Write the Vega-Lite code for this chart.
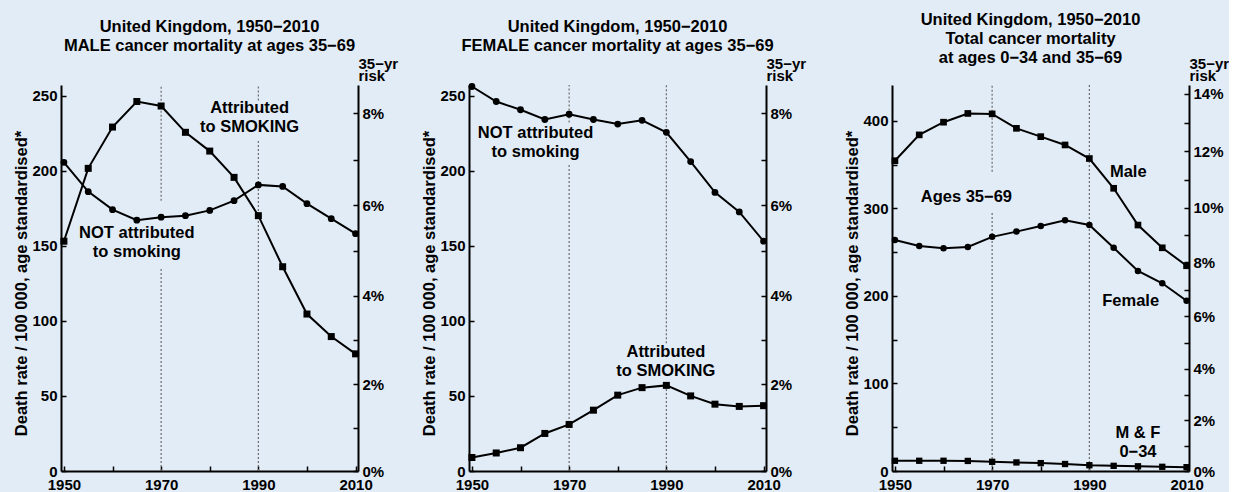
{
  "$schema": "https://vega.github.io/schema/vega-lite/v6.json",
  "background": "#e2ecf6",
  "padding": {"left": 13, "top": 12, "right": 0, "bottom": 0},
  "autosize": {"type": "pad"},
  "config": {
    "view": {"stroke": null},
    "font": "Liberation Sans",
    "axis": {
      "grid": false,
      "domainColor": "black",
      "domainWidth": 2,
      "tickColor": "black",
      "tickWidth": 1.5,
      "tickSize": -5,
      "labelPadding": 9,
      "labelFont": "Liberation Sans",
      "labelFontSize": 15,
      "labelFontWeight": "bold",
      "labelColor": "black",
      "labelOverlap": false,
      "labelFlush": false,
      "titleFont": "Liberation Sans",
      "titleFontSize": 16.5,
      "titleFontWeight": "bold",
      "titleColor": "black"
    },
    "title": {"font": "Liberation Sans", "fontSize": 16.5, "fontWeight": "bold", "color": "black", "lineHeight": 19, "anchor": "middle", "frame": "group"},
    "text": {"font": "Liberation Sans"}
  },
  "datasets": {
    "male": [
      {"series": "smoking", "year": 1950, "value": 153},
      {"series": "smoking", "year": 1955, "value": 201.5},
      {"series": "smoking", "year": 1960, "value": 229},
      {"series": "smoking", "year": 1965, "value": 246},
      {"series": "smoking", "year": 1970, "value": 243},
      {"series": "smoking", "year": 1975, "value": 225.5},
      {"series": "smoking", "year": 1980, "value": 213},
      {"series": "smoking", "year": 1985, "value": 195.5},
      {"series": "smoking", "year": 1990, "value": 170},
      {"series": "smoking", "year": 1995, "value": 136},
      {"series": "smoking", "year": 2000, "value": 104.5},
      {"series": "smoking", "year": 2005, "value": 89.5},
      {"series": "smoking", "year": 2010, "value": 78},
      {"series": "not", "year": 1950, "value": 205.5},
      {"series": "not", "year": 1955, "value": 186},
      {"series": "not", "year": 1960, "value": 174},
      {"series": "not", "year": 1965, "value": 167},
      {"series": "not", "year": 1970, "value": 169},
      {"series": "not", "year": 1975, "value": 170},
      {"series": "not", "year": 1980, "value": 173.5},
      {"series": "not", "year": 1985, "value": 180},
      {"series": "not", "year": 1990, "value": 190.5},
      {"series": "not", "year": 1995, "value": 189.5},
      {"series": "not", "year": 2000, "value": 178},
      {"series": "not", "year": 2005, "value": 168},
      {"series": "not", "year": 2010, "value": 158}
    ],
    "female": [
      {"series": "not", "year": 1950, "value": 256},
      {"series": "not", "year": 1955, "value": 246},
      {"series": "not", "year": 1960, "value": 240.5},
      {"series": "not", "year": 1965, "value": 234},
      {"series": "not", "year": 1970, "value": 237.5},
      {"series": "not", "year": 1975, "value": 234},
      {"series": "not", "year": 1980, "value": 231},
      {"series": "not", "year": 1985, "value": 233.5},
      {"series": "not", "year": 1990, "value": 225.5},
      {"series": "not", "year": 1995, "value": 206},
      {"series": "not", "year": 2000, "value": 185.5},
      {"series": "not", "year": 2005, "value": 172.5},
      {"series": "not", "year": 2010, "value": 153},
      {"series": "smoking", "year": 1950, "value": 9},
      {"series": "smoking", "year": 1955, "value": 12},
      {"series": "smoking", "year": 1960, "value": 15.5},
      {"series": "smoking", "year": 1965, "value": 25},
      {"series": "smoking", "year": 1970, "value": 31},
      {"series": "smoking", "year": 1975, "value": 40.5},
      {"series": "smoking", "year": 1980, "value": 50.5},
      {"series": "smoking", "year": 1985, "value": 55.5},
      {"series": "smoking", "year": 1990, "value": 57},
      {"series": "smoking", "year": 1995, "value": 50},
      {"series": "smoking", "year": 2000, "value": 44.5},
      {"series": "smoking", "year": 2005, "value": 43},
      {"series": "smoking", "year": 2010, "value": 43.5}
    ],
    "total": [
      {"series": "male", "year": 1950, "value": 354.5},
      {"series": "male", "year": 1955, "value": 384},
      {"series": "male", "year": 1960, "value": 398.5},
      {"series": "male", "year": 1965, "value": 408.5},
      {"series": "male", "year": 1970, "value": 408},
      {"series": "male", "year": 1975, "value": 391.5},
      {"series": "male", "year": 1980, "value": 382},
      {"series": "male", "year": 1985, "value": 372.5},
      {"series": "male", "year": 1990, "value": 357},
      {"series": "male", "year": 1995, "value": 323},
      {"series": "male", "year": 2000, "value": 281},
      {"series": "male", "year": 2005, "value": 255},
      {"series": "male", "year": 2010, "value": 234.5},
      {"series": "female", "year": 1950, "value": 264},
      {"series": "female", "year": 1955, "value": 257},
      {"series": "female", "year": 1960, "value": 254.5},
      {"series": "female", "year": 1965, "value": 256},
      {"series": "female", "year": 1970, "value": 267.5},
      {"series": "female", "year": 1975, "value": 273.5},
      {"series": "female", "year": 1980, "value": 280},
      {"series": "female", "year": 1985, "value": 286.5},
      {"series": "female", "year": 1990, "value": 281},
      {"series": "female", "year": 1995, "value": 255},
      {"series": "female", "year": 2000, "value": 228.5},
      {"series": "female", "year": 2005, "value": 214.5},
      {"series": "female", "year": 2010, "value": 194.5},
      {"series": "young", "year": 1950, "value": 11.7},
      {"series": "young", "year": 1955, "value": 11.7},
      {"series": "young", "year": 1960, "value": 11.7},
      {"series": "young", "year": 1965, "value": 11.5},
      {"series": "young", "year": 1970, "value": 10.5},
      {"series": "young", "year": 1975, "value": 9.8},
      {"series": "young", "year": 1980, "value": 9},
      {"series": "young", "year": 1985, "value": 8},
      {"series": "young", "year": 1990, "value": 6.6},
      {"series": "young", "year": 1995, "value": 5.9},
      {"series": "young", "year": 2000, "value": 5.4},
      {"series": "young", "year": 2005, "value": 4.8},
      {"series": "young", "year": 2010, "value": 4.4}
    ],
    "vlines": [
      {"panel": "male", "year": 1970, "lo": 180, "hi": 257},
      {"panel": "male", "year": 1970, "lo": 0, "hi": 135},
      {"panel": "male", "year": 1990, "lo": 246.7, "hi": 257},
      {"panel": "male", "year": 1990, "lo": 0, "hi": 220},
      {"panel": "female", "year": 1970, "lo": 232, "hi": 257},
      {"panel": "female", "year": 1970, "lo": 0, "hi": 205},
      {"panel": "female", "year": 1990, "lo": 85, "hi": 257},
      {"panel": "female", "year": 1990, "lo": 0, "hi": 57},
      {"panel": "total", "year": 1970, "lo": 342, "hi": 441},
      {"panel": "total", "year": 1970, "lo": 0, "hi": 296.6},
      {"panel": "total", "year": 1990, "lo": 0, "hi": 441}
    ],
    "labels": [
      {"panel": "male", "text": "Attributed\nto SMOKING", "year": 1988.2, "value": 241.9},
      {"panel": "male", "text": "NOT attributed\nto smoking", "year": 1965.0, "value": 158.3},
      {"panel": "female", "text": "NOT attributed\nto smoking", "year": 1963.1, "value": 224.8},
      {"panel": "female", "text": "Attributed\nto SMOKING", "year": 1989.9, "value": 79.4},
      {"panel": "total", "text": "Male", "year": 1998, "value": 342},
      {"panel": "total", "text": "Ages 35−69", "year": 1964.7, "value": 312.8},
      {"panel": "total", "text": "Female", "year": 1998.5, "value": 194.3},
      {"panel": "total", "text": "M & F\n0−34", "year": 2000, "value": 43.8}
    ]
  },
  "bounds": "flush",
  "spacing": 0,
  "hconcat": [
    {
      "width": 297, "height": 386,
      "title": {"text": ["United Kingdom, 1950−2010", "MALE cancer mortality at ages 35−69"], "dy": 2.5},
      "layer": [
        {
          "layer": [
            {
              "data": {"name": "vlines"},
              "transform": [{"filter": "datum.panel == 'male'"}],
              "mark": {"type": "rule", "strokeDash": [2, 2], "color": "#6b6b6b", "strokeWidth": 1.2},
              "encoding": {
                "x": {"field": "year", "type": "quantitative", "title": null, "scale": {"domain": [1949.4, 2010.5], "nice": false, "zero": false},
                  "axis": {"orient": "bottom", "values": [1950, 1955, 1960, 1965, 1970, 1975, 1980, 1985, 1990, 1995, 2000, 2005, 2010], "format": "d", "labelExpr": "datum.value % 20 == 10 ? datum.label : ''", "labelPadding": 11}},
                "y": {"field": "lo", "type": "quantitative", "title": "Death rate / 100 000, age standardised*", "scale": {"domain": [0, 257], "nice": false, "zero": false},
                  "axis": {"orient": "left", "values": [0, 50, 100, 150, 200, 250], "titleX": -40, "titleY": 198, "titleAngle": -90, "titleAlign": "center", "titleBaseline": "middle"}},
                "y2": {"field": "hi"}
              }
            },
            {
              "data": {"name": "male"},
              "mark": {"type": "line", "color": "black", "strokeWidth": 2},
              "encoding": {
                "x": {"field": "year", "type": "quantitative", "title": null},
                "y": {"field": "value", "type": "quantitative", "title": "Death rate / 100 000, age standardised*"},
                "detail": {"field": "series"}
              }
            },
            {
              "data": {"name": "male"},
              "mark": {"type": "point", "filled": true, "color": "black", "opacity": 1},
              "encoding": {
                "x": {"field": "year", "type": "quantitative", "title": null},
                "y": {"field": "value", "type": "quantitative", "title": "Death rate / 100 000, age standardised*"},
                "shape": {"field": "series", "scale": {"domain": ["smoking", "not"], "range": ["square", "circle"]}, "legend": null},
                "size": {"field": "series", "scale": {"domain": ["smoking", "not"], "range": [49, 40]}, "legend": null}
              }
            },
            {
              "data": {"name": "labels"},
              "transform": [{"filter": "datum.panel == 'male'"}],
              "mark": {"type": "text", "fontSize": 16.5, "fontWeight": "bold", "lineBreak": "\n", "lineHeight": 19, "baseline": "middle", "align": "center", "color": "black"},
              "encoding": {
                "x": {"field": "year", "type": "quantitative", "title": null},
                "y": {"field": "value", "type": "quantitative", "title": "Death rate / 100 000, age standardised*"},
                "text": {"field": "text"}
              }
            }
          ]
        },
        {
          "data": {"name": "male"},
          "mark": {"type": "point", "opacity": 0},
          "encoding": {
            "x": {"field": "year", "type": "quantitative", "title": null},
            "y": {"field": "value", "type": "quantitative", "scale": {"domain": [0, 257], "nice": false, "zero": false},
              "axis": {"orient": "right", "values": [0, 28.715, 57.722, 87.026, 116.634, 146.552, 176.787, 207.345, 238.233],
                "labelExpr": "round(100*(1-exp(-0.00035*datum.value))) % 2 == 0 ? round(100*(1-exp(-0.00035*datum.value))) + '%' : ''",
                "title": ["35−yr", "risk"], "titleAngle": 0, "titleAlign": "left", "titleBaseline": "top", "titleX": 0, "titleY": -29, "titleLineHeight": 12, "titleFontSize": 15}}
          }
        }
      ],
      "resolve": {"scale": {"y": "independent"}}
    },
    {
      "width": 111, "height": 386,
      "data": {"values": [{}]},
      "mark": {"type": "point", "opacity": 0},
      "encoding": {}
    },
    {
      "width": 297, "height": 386,
      "title": {"text": ["United Kingdom, 1950−2010", "FEMALE cancer mortality at ages 35−69"], "dy": 2.5},
      "layer": [
        {
          "layer": [
            {
              "data": {"name": "vlines"},
              "transform": [{"filter": "datum.panel == 'female'"}],
              "mark": {"type": "rule", "strokeDash": [2, 2], "color": "#6b6b6b", "strokeWidth": 1.2},
              "encoding": {
                "x": {"field": "year", "type": "quantitative", "title": null, "scale": {"domain": [1949.4, 2010.5], "nice": false, "zero": false},
                  "axis": {"orient": "bottom", "values": [1950, 1955, 1960, 1965, 1970, 1975, 1980, 1985, 1990, 1995, 2000, 2005, 2010], "format": "d", "labelExpr": "datum.value % 20 == 10 ? datum.label : ''", "labelPadding": 11}},
                "y": {"field": "lo", "type": "quantitative", "title": "Death rate / 100 000, age standardised*", "scale": {"domain": [0, 257], "nice": false, "zero": false},
                  "axis": {"orient": "left", "values": [0, 50, 100, 150, 200, 250], "titleX": -40, "titleY": 198, "titleAngle": -90, "titleAlign": "center", "titleBaseline": "middle"}},
                "y2": {"field": "hi"}
              }
            },
            {
              "data": {"name": "female"},
              "mark": {"type": "line", "color": "black", "strokeWidth": 2},
              "encoding": {
                "x": {"field": "year", "type": "quantitative", "title": null},
                "y": {"field": "value", "type": "quantitative", "title": "Death rate / 100 000, age standardised*"},
                "detail": {"field": "series"}
              }
            },
            {
              "data": {"name": "female"},
              "mark": {"type": "point", "filled": true, "color": "black", "opacity": 1},
              "encoding": {
                "x": {"field": "year", "type": "quantitative", "title": null},
                "y": {"field": "value", "type": "quantitative", "title": "Death rate / 100 000, age standardised*"},
                "shape": {"field": "series", "scale": {"domain": ["smoking", "not"], "range": ["square", "circle"]}, "legend": null},
                "size": {"field": "series", "scale": {"domain": ["smoking", "not"], "range": [49, 40]}, "legend": null}
              }
            },
            {
              "data": {"name": "labels"},
              "transform": [{"filter": "datum.panel == 'female'"}],
              "mark": {"type": "text", "fontSize": 16.5, "fontWeight": "bold", "lineBreak": "\n", "lineHeight": 19, "baseline": "middle", "align": "center", "color": "black"},
              "encoding": {
                "x": {"field": "year", "type": "quantitative", "title": null},
                "y": {"field": "value", "type": "quantitative", "title": "Death rate / 100 000, age standardised*"},
                "text": {"field": "text"}
              }
            }
          ]
        },
        {
          "data": {"name": "female"},
          "mark": {"type": "point", "opacity": 0},
          "encoding": {
            "x": {"field": "year", "type": "quantitative", "title": null},
            "y": {"field": "value", "type": "quantitative", "scale": {"domain": [0, 257], "nice": false, "zero": false},
              "axis": {"orient": "right", "values": [0, 28.715, 57.722, 87.026, 116.634, 146.552, 176.787, 207.345, 238.233],
                "labelExpr": "round(100*(1-exp(-0.00035*datum.value))) % 2 == 0 ? round(100*(1-exp(-0.00035*datum.value))) + '%' : ''",
                "title": ["35−yr", "risk"], "titleAngle": 0, "titleAlign": "left", "titleBaseline": "top", "titleX": 0, "titleY": -29, "titleLineHeight": 12, "titleFontSize": 15}}
          }
        }
      ],
      "resolve": {"scale": {"y": "independent"}}
    },
    {
      "width": 126, "height": 386,
      "data": {"values": [{}]},
      "mark": {"type": "point", "opacity": 0},
      "encoding": {}
    },
    {
      "width": 297, "height": 386,
      "title": {"text": ["United Kingdom, 1950−2010", "Total cancer mortality", "at ages 0−34 and 35−69"], "dx": -10, "dy": 14.5},
      "layer": [
        {
          "layer": [
            {
              "data": {"name": "vlines"},
              "transform": [{"filter": "datum.panel == 'total'"}],
              "mark": {"type": "rule", "strokeDash": [2, 2], "color": "#6b6b6b", "strokeWidth": 1.2},
              "encoding": {
                "x": {"field": "year", "type": "quantitative", "title": null, "scale": {"domain": [1949.4, 2010.5], "nice": false, "zero": false},
                  "axis": {"orient": "bottom", "values": [1950, 1955, 1960, 1965, 1970, 1975, 1980, 1985, 1990, 1995, 2000, 2005, 2010], "format": "d", "labelExpr": "datum.value % 20 == 10 ? datum.label : ''", "labelPadding": 11}},
                "y": {"field": "lo", "type": "quantitative", "title": "Death rate / 100 000, age standardised*", "scale": {"domain": [0, 441], "nice": false, "zero": false},
                  "axis": {"orient": "left", "values": [0, 50, 100, 150, 200, 250, 300, 350, 400], "labelExpr": "datum.value % 100 == 0 ? datum.label : ''", "titleX": -40, "titleY": 198, "titleAngle": -90, "titleAlign": "center", "titleBaseline": "middle"}},
                "y2": {"field": "hi"}
              }
            },
            {
              "data": {"name": "total"},
              "mark": {"type": "line", "color": "black", "strokeWidth": 2},
              "encoding": {
                "x": {"field": "year", "type": "quantitative", "title": null},
                "y": {"field": "value", "type": "quantitative", "title": "Death rate / 100 000, age standardised*"},
                "detail": {"field": "series"}
              }
            },
            {
              "data": {"name": "total"},
              "mark": {"type": "point", "filled": true, "color": "black", "opacity": 1},
              "encoding": {
                "x": {"field": "year", "type": "quantitative", "title": null},
                "y": {"field": "value", "type": "quantitative", "title": "Death rate / 100 000, age standardised*"},
                "shape": {"field": "series", "scale": {"domain": ["male", "female", "young"], "range": ["square", "circle", "diamond"]}, "legend": null},
                "size": {"field": "series", "scale": {"domain": ["male", "female", "young"], "range": [49, 40, 45]}, "legend": null}
              }
            },
            {
              "data": {"name": "labels"},
              "transform": [{"filter": "datum.panel == 'total'"}],
              "mark": {"type": "text", "fontSize": 16.5, "fontWeight": "bold", "lineBreak": "\n", "lineHeight": 19, "baseline": "middle", "align": "center", "color": "black"},
              "encoding": {
                "x": {"field": "year", "type": "quantitative", "title": null},
                "y": {"field": "value", "type": "quantitative", "title": "Death rate / 100 000, age standardised*"},
                "text": {"field": "text"}
              }
            }
          ]
        },
        {
          "data": {"name": "total"},
          "mark": {"type": "point", "opacity": 0},
          "encoding": {
            "x": {"field": "year", "type": "quantitative", "title": null},
            "y": {"field": "value", "type": "quantitative", "scale": {"domain": [0, 441], "nice": false, "zero": false},
              "axis": {"orient": "right", "values": [0, 28.715, 57.722, 87.026, 116.634, 146.552, 176.787, 207.345, 238.233, 269.459, 301.030, 332.954, 365.238, 397.892, 430.923],
                "labelExpr": "round(100*(1-exp(-0.00035*datum.value))) % 2 == 0 ? round(100*(1-exp(-0.00035*datum.value))) + '%' : ''",
                "title": ["35−yr", "risk"], "titleAngle": 0, "titleAlign": "left", "titleBaseline": "top", "titleX": 0, "titleY": -29, "titleLineHeight": 12, "titleFontSize": 15}}
          }
        }
      ],
      "resolve": {"scale": {"y": "independent"}}
    }
  ]
}
